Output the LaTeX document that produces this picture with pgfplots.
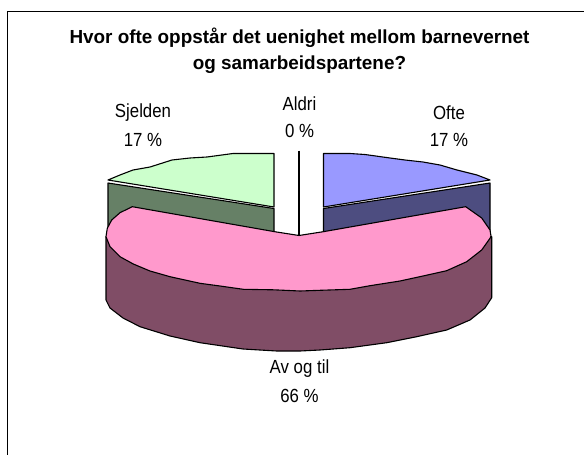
\documentclass[border=0pt]{standalone}
\usepackage{pgfplots}
\pgfplotsset{compat=1.18}
\usepackage{fontspec}
\setmainfont{Liberation Sans}
\definecolor{gtop}{HTML}{CCFFCC}
\definecolor{gwall}{HTML}{668066}
\definecolor{btop}{HTML}{9999FF}
\definecolor{bwall}{HTML}{4D4D80}
\definecolor{ptop}{HTML}{FF99CC}
\definecolor{pwall}{HTML}{804D66}
\newcommand{\lab}[1]{\scalebox{0.885}[1]{\fontsize{19}{19}\selectfont #1}}
\begin{document}
\begin{tikzpicture}[x=1pt,y=1pt]
\begin{axis}[
  scale only axis, width=584pt, height=455pt,
  xmin=0, xmax=584, ymin=0, ymax=455, y dir=reverse,
  axis lines=none, clip=true,
  every axis plot/.append style={line width=1.1pt, line join=round},
]
% background
\addplot[draw=none, fill=white] coordinates {(0,0)(584,0)(584,455)(0,455)} -- cycle;
% frame
\addplot[draw=black, line width=1.5pt] coordinates {(7.5,455)(7.5,11.5)(584,11.5)};
% green wall
\addplot[draw=black, fill=gwall] coordinates {(108,183)(274,208.5)(274,240)(108,240)} -- cycle;
% blue wall
\addplot[draw=black, fill=bwall] coordinates {(490,183)(323.5,208.5)(323.5,240)(490,240)} -- cycle;
% green top
\addplot[draw=black, fill=gtop] coordinates {(108,180)(120,175)(133,170)(150,167)(172,160)(190,158)(207,157)(233,153.5)(274,153.5)(274,207)} -- cycle;
% blue top
\addplot[draw=black, fill=btop] coordinates {(490,180)(477,175)(457,170)(440,165)(423,162)(405,160)(390,158)(365,154.5)(350,153.5)(323.5,153.5)(323.5,207)} -- cycle;
% pink side
\addplot[draw=black, fill=pwall] coordinates {(106,236.7)(106,300)(110,308)(123,318)(140,326.7)(170,336)(200,342.7)(243,349)(276.7,351)(300,351)(320,350)(350,347.7)(386.7,342.7)(416.7,336.7)(446.7,330)(470,320)(485,308)(491.7,297.7)(491.7,236.7)} -- cycle;
% pink top
\addplot[draw=black, fill=ptop] coordinates {(132.3,206.7)(274.7,231.7)(299,235.5)(323.3,231.7)(465.7,206.7)(481.7,218)(490,230)(491,236)(490,238.3)(481.7,250)(466.7,261.7)(446.7,270.7)(423,276)(400,281)(370,285.7)(350,289.3)(320,290.3)(300,291)(273.3,289.8)(243.3,289.3)(220,286)(200,283.3)(170,276.7)(150,271)(133.3,264)(120,256.7)(110,246.7)(106,236.7)(107.3,228.3)(111.7,220)(120,212.7)} -- cycle;
% Aldri slice
\addplot[draw=black, line width=1.3pt] coordinates {(299,150.5)(299,235.5)};
\node[font=\fontsize{18.9}{18.9}\selectfont\bfseries] at (axis cs:299.5,38) {Hvor ofte oppstår det uenighet mellom barnevernet};
\node[font=\fontsize{18.9}{18.9}\selectfont\bfseries] at (axis cs:299.5,65) {og samarbeidspartene?};
\node at (axis cs:143,113) {\lab{Sjelden}};
\node at (axis cs:143,140) {\lab{17 \%}};
\node at (axis cs:299.5,104) {\lab{Aldri}};
\node at (axis cs:299.5,131) {\lab{0 \%}};
\node at (axis cs:449,113) {\lab{Ofte}};
\node at (axis cs:449,140) {\lab{17 \%}};
\node at (axis cs:299.5,369) {\lab{Av og til}};
\node at (axis cs:299.5,396) {\lab{66 \%}};
\end{axis}
\end{tikzpicture}
\end{document}
